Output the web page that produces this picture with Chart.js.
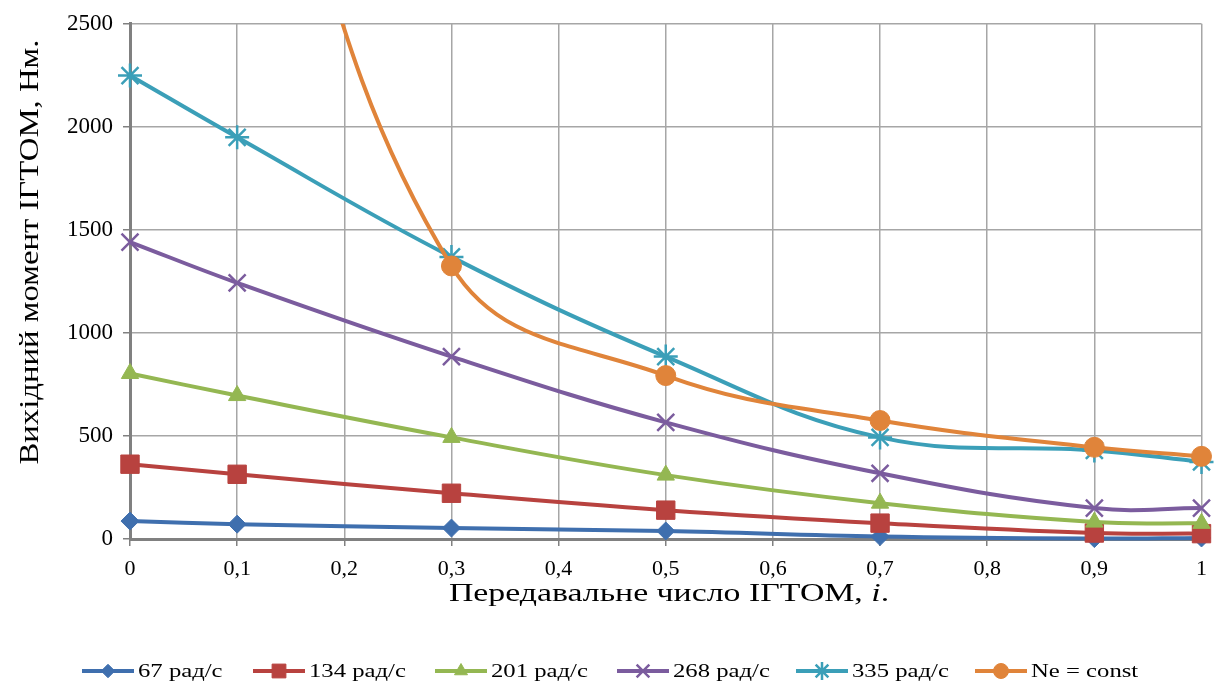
<!DOCTYPE html>
<html>
<head>
<meta charset="utf-8">
<script src="https://cdn.jsdelivr.net/npm/chart.js@4.4.0/dist/chart.umd.min.js"></script>
<style>
  html, body { margin: 0; padding: 0; background: #fff; }
  #wrap { width: 1217px; height: 686px; position: relative; }
  #wrap canvas { position: absolute; left: 0; top: 0; }
</style>
</head>
<body>
<div id="wrap">
  <canvas id="chart" width="1217" height="686"></canvas>
  <canvas id="labels" width="1217" height="686"></canvas>
</div>
<script>
// передавальне число (вісь x)
const ratios = [0, 0.1, 0.3, 0.5, 0.7, 0.9, 1];
const seriesNames = ['67 рад/с', '134 рад/с', '201 рад/с', '268 рад/с', '335 рад/с', 'Ne = const'];
const torque67 = [87, 72, 53, 39, 12, 2, 5];
const torque134 = [363, 314, 222, 140, 77, 29, 26];
const torque201 = [803, 696, 493, 310, 174, 82, 76];
const torque268 = [1441, 1243, 885, 566, 319, 150, 150];
const torque335 = [2249, 1949, 1369, 885, 493, 430, 374];
// Ne = const: точка 0,1 лежить вище межі 2500 (видно лише хвіст кривої)
const torqueNe = [null, 4200, 1325, 793, 575, 445, 401];
const xTicks = [0, 0.1, 0.2, 0.3, 0.4, 0.5, 0.6, 0.7, 0.8, 0.9, 1];
const yTicks = [0, 500, 1000, 1500, 2000, 2500];

const colors = ['#3f6fae', '#b8423f', '#94b752', '#7b5c9e', '#3b9fb8', '#e0843a'];
const markers = ['rectRot', 'rect', 'triangle', 'crossRot', 'star', 'circle'];
const radii = [9, 13, 10, 12, 12, 10];
const allSeries = [torque67, torque134, torque201, torque268, torque335, torqueNe];

const SERIF = '"Liberation Serif", "Times New Roman", serif';

function toPoints(arr) {
  const pts = [];
  ratios.forEach((x, i) => { if (arr[i] !== null) pts.push({ x: x, y: arr[i] }); });
  return pts;
}

const datasets = allSeries.map((arr, i) => {
  const thin = markers[i] === 'crossRot' || markers[i] === 'star';
  const isNe = i === allSeries.length - 1;
  return {
    label: seriesNames[i],
    data: toPoints(arr),
    order: allSeries.length - i, // пізніші серії поверх, як в Excel
    clip: isNe ? { left: 30, right: 30, bottom: 30, top: 0 } : false,
    borderColor: colors[i],
    backgroundColor: colors[i],
    borderWidth: 4,
    tension: 0.4,
    pointStyle: markers[i],
    pointRadius: radii[i],
    pointBorderWidth: thin ? 2.5 : 1,
    pointBorderColor: colors[i],
    pointBackgroundColor: colors[i]
  };
});

new Chart(document.getElementById('chart'), {
  type: 'line',
  data: { datasets: datasets },
  options: {
    responsive: false,
    animation: false,
    layout: { padding: { top: 22, right: 13, left: 0, bottom: 0 } },
    plugins: {
      legend: { display: false },
      tooltip: { enabled: false }
    },
    scales: {
      x: {
        type: 'linear',
        min: 0,
        max: 1,
        afterFit(scale) { scale.height = 147; },
        afterBuildTicks(scale) { scale.ticks = xTicks.map(v => ({ value: v })); },
        ticks: {
          color: '#000',
          font: { family: SERIF, size: 22 },
          padding: 10,
          maxRotation: 0,
          callback: v => String(Math.round(v * 10) / 10).replace('.', ',')
        },
        grid: { color: '#a6a6a6', lineWidth: 1.5, tickLength: 7, tickColor: '#808080' },
        border: { color: '#808080', width: 3 }
      },
      y: {
        min: 0,
        max: 2500,
        afterFit(scale) { scale.width = 130; },
        afterBuildTicks(scale) { scale.ticks = yTicks.map(v => ({ value: v })); },
        ticks: {
          color: '#000',
          font: { family: SERIF, size: 23 },
          padding: 10,
          callback: v => String(v)
        },
        grid: { color: '#a6a6a6', lineWidth: 1.5, tickLength: 7, tickColor: '#808080' },
        border: { color: '#808080', width: 3 }
      }
    }
  }
});

// назви осей і легенда — на окремому полотні поверх графіка
(function drawLabels() {
  const ctx = document.getElementById('labels').getContext('2d');
  ctx.fillStyle = '#000';
  ctx.textAlign = 'left';
  ctx.textBaseline = 'alphabetic';

  // назва осі y
  ctx.save();
  ctx.translate(38, 252);
  ctx.rotate(-Math.PI / 2);
  ctx.font = '28px ' + SERIF;
  const ty = 'Вихідний момент ІГТОМ, Нм.';
  const tw = ctx.measureText(ty).width;
  ctx.scale(425 / tw, 1);
  ctx.fillText(ty, -tw / 2, 0);
  ctx.restore();

  // назва осі x з курсивним i (розтягнута по ширині, як в оригіналі)
  const f = '26px ' + SERIF;
  const parts = [
    { text: 'Передавальне число ІГТОМ, ', font: f },
    { text: 'i', font: 'italic ' + f },
    { text: '.', font: f }
  ];
  let total = 0;
  parts.forEach(p => { ctx.font = p.font; p.w = ctx.measureText(p.text).width; total += p.w; });
  ctx.save();
  ctx.translate(669, 601);
  ctx.scale(1.3, 1);
  let x = -total / 2;
  parts.forEach(p => { ctx.font = p.font; ctx.fillText(p.text, x, 0); x += p.w; });
  ctx.restore();

  // легенда: лінія з маркером + підпис
  const starts = [82, 253, 435, 617, 796, 975];
  const ly = 671;
  datasets.forEach((ds, i) => {
    const sx = starts[i];
    ctx.strokeStyle = ds.borderColor;
    ctx.lineWidth = 4;
    ctx.beginPath();
    ctx.moveTo(sx, ly);
    ctx.lineTo(sx + 52, ly);
    ctx.stroke();
    ctx.fillStyle = ds.borderColor;
    ctx.lineWidth = ds.pointBorderWidth;
    Chart.helpers.drawPoint(ctx, {
      pointStyle: markers[i],
      radius: radii[i] * 0.75,
      rotation: 0,
      borderWidth: ds.pointBorderWidth
    }, sx + 26, ly);
    ctx.fillStyle = '#000';
    ctx.font = '19px ' + SERIF;
    ctx.textBaseline = 'middle';
    ctx.save();
    ctx.translate(sx + 56, ly + 1);
    ctx.scale(1.3, 1);
    ctx.fillText(ds.label, 0, 0);
    ctx.restore();
  });
})();
</script>
</body>
</html>
